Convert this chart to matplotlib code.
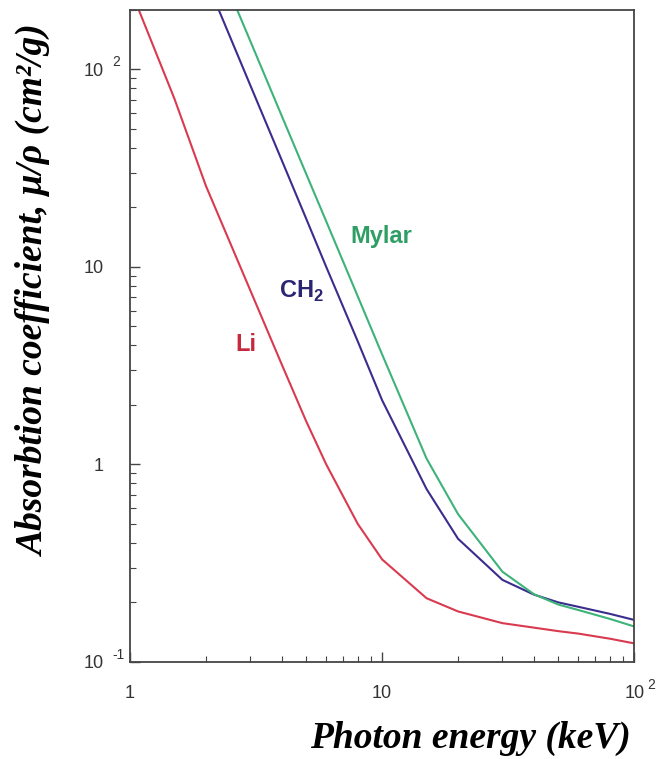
import numpy as np
import matplotlib
matplotlib.use('Agg')
import matplotlib.pyplot as plt

plt.rcParams['font.family'] = ['Liberation Sans', 'DejaVu Sans']
plt.rcParams['mathtext.fontset'] = 'custom'
plt.rcParams['mathtext.rm'] = 'Liberation Sans'
plt.rcParams['mathtext.bf'] = 'Liberation Sans:bold'

# mass absorption coefficient (cm^2/g) vs photon energy (keV)
li_energy = [1, 1.5, 2, 3, 4, 5, 6, 8, 10, 15, 20, 30, 40, 50, 60, 80, 100]
li_mu = [258, 71, 25.7, 7.6, 3.2, 1.65, 1.0, 0.5, 0.33, 0.21, 0.18,
         0.157, 0.149, 0.143, 0.139, 0.131, 0.124]

ch2_energy = [2, 3, 4, 5, 6, 8, 10, 15, 20, 30, 40, 50, 60, 80, 100]
ch2_mu = [286, 83, 34.6, 17.5, 10.0, 4.2, 2.11, 0.75, 0.42, 0.26,
          0.219, 0.20, 0.19, 0.175, 0.163]

mylar_energy = [2, 3, 4, 5, 6, 8, 10, 15, 20, 30, 40, 50, 60, 80, 100]
mylar_mu = [474, 139, 58, 29.5, 17.0, 7.1, 3.6, 1.07, 0.56, 0.286,
            0.22, 0.195, 0.183, 0.165, 0.151]

x_ticks = [1, 10, 100]
x_tick_base = ['1', '10', '10']
x_tick_exp = ['', '', '2']
y_ticks = [0.1, 1, 10, 100]
y_tick_base = ['10', '1', '10', '10']
y_tick_exp = ['-1', '', '', '2']

LI_COLOR = '#d93a50'
CH2_COLOR = '#3a2d8e'
MYLAR_COLOR = '#3db37a'

fig = plt.figure(figsize=(6.6, 7.59), dpi=100)
ax = fig.add_axes([0.197, 0.128, 0.764, 0.859])

ax.plot(li_energy, li_mu, color=LI_COLOR, lw=1.5)
ax.plot(ch2_energy, ch2_mu, color=CH2_COLOR, lw=1.5)
ax.plot(mylar_energy, mylar_mu, color=MYLAR_COLOR, lw=1.5)

ax.set_xscale('log')
ax.set_yscale('log')
ax.set_xlim(1, 100)
ax.set_ylim(0.1, 200)

for sp in ax.spines.values():
    sp.set_color('#444444')
    sp.set_linewidth(1.3)

ax.tick_params(which='both', direction='in', top=False, right=False,
               color='#444444', labelcolor='#333333', labelsize=13)
ax.tick_params(which='major', length=7, width=1)
ax.tick_params(which='minor', length=4, width=0.8)
ax.tick_params(axis='x', which='major', pad=17)
ax.tick_params(axis='y', which='major', pad=19)

ax.set_xticks(x_ticks)
ax.set_xticklabels(x_tick_base)
ax.set_yticks(y_ticks)
ax.set_yticklabels(y_tick_base)

# exponents drawn next to the tick numbers
for val, e in zip(x_ticks, x_tick_exp):
    if e:
        ax.annotate(e, xy=(val, 0), xycoords=('data', 'axes fraction'),
                    xytext=(9, -16.5), textcoords='offset points',
                    ha='left', va='center', fontsize=10, color='#333333')
for val, e in zip(y_ticks, y_tick_exp):
    if e:
        ax.annotate(e, xy=(0, val), xycoords=('axes fraction', 'data'),
                    xytext=(-12.5, 5), textcoords='offset points',
                    ha='left', va='center', fontsize=10, color='#333333')

ax.text(2.89, 4.06, 'Li', color='#c8283e', fontsize=17, fontweight='bold',
        ha='center', va='center')
ax.text(4.77, 7.55, r'CH$_{\mathbf{2}}$', color='#2c2672', fontsize=17,
        fontweight='bold', ha='center', va='center')
ax.text(9.9, 14.2, 'Mylar', color='#2f9e64', fontsize=17, fontweight='bold',
        ha='center', va='center')

label_font = dict(family='Liberation Serif', weight='bold', style='italic')
fig.text(0.052, 0.618, 'Absorbtion coefficient, μ/ρ (cm²/g)', rotation=90,
         ha='center', va='center', fontsize=27, **label_font)
fig.text(0.955, 0.027, 'Photon energy (keV)', ha='right', va='center',
         fontsize=27, **label_font)

fig.savefig('out.png', dpi=100, facecolor='white')
